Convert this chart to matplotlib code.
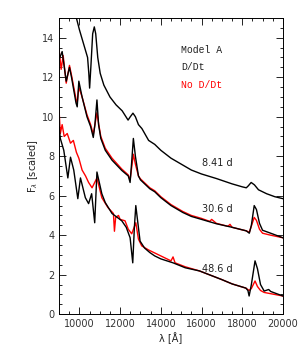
import numpy as np
import matplotlib
matplotlib.use("Agg")
import matplotlib.pyplot as plt
from matplotlib.ticker import MultipleLocator

# 8.41 d, D/Dt only (black)
wl_841 = [9750, 9850, 10000, 10200, 10400, 10460, 10500, 10560, 10650, 10730, 10800, 10900,
          11020, 11200, 11500, 11800, 12100, 12390, 12500, 12630, 12750, 12900, 13070, 13400,
          13700, 14000, 14500, 15000, 15500, 16000, 16730, 17500, 18000, 18200, 18300, 18440,
          18600, 18800, 19200, 19600, 20000]
f_841 = [15.3, 15.0, 14.4, 13.7, 13.0, 12.2, 11.45, 12.5, 14.2, 14.55, 14.2, 13.0,
         12.2, 11.6, 11.0, 10.6, 10.3, 9.83, 10.0, 10.18, 10.0, 9.6, 9.4, 8.8,
         8.6, 8.3, 7.9, 7.6, 7.3, 7.1, 6.87, 6.6, 6.45, 6.4, 6.5, 6.67,
         6.55, 6.3, 6.1, 5.95, 5.85]

# 30.6 d, D/Dt (black)
wl_306 = [9000, 9150, 9350, 9510, 9610, 9830, 9890, 9970, 10130, 10370, 10550, 10680, 10760,
          10860, 10940, 11050, 11270, 11600, 12080, 12400, 12490, 12560, 12650, 12750, 12900,
          13000, 13460, 13700, 14000, 14500, 15080, 15500, 16000, 16730, 17500, 18200, 18350,
          18450, 18590, 18700, 18850, 19000, 19400, 20000]
f_306 = [12.9, 13.3, 11.8, 12.5, 12.0, 10.7, 10.5, 11.8, 11.0, 10.0, 9.5, 8.95, 9.6,
         10.85, 9.6, 8.9, 8.3, 7.8, 7.28, 7.0, 6.67, 7.6, 8.9, 8.0, 7.0,
         6.8, 6.35, 6.2, 5.9, 5.5, 5.15, 4.95, 4.8, 4.58, 4.4, 4.22, 4.1,
         4.5, 5.5, 5.3, 4.6, 4.25, 4.1, 3.87]

# 30.6 d, no D/Dt (red)
wl_306n = [9000, 9100, 9200, 9350, 9510, 9610, 9830, 9890, 9970, 10130, 10370, 10550, 10680,
           10860, 10950, 11050, 11270, 11600, 12080, 12400, 12490, 12650, 12750, 12900, 13000,
           13460, 13700, 14000, 14500, 15080, 15500, 16000, 16400, 16500, 16730, 17300, 17400,
           17500, 18200, 18350, 18590, 18700, 18850, 19000, 19400, 20000]
f_306n = [13.4, 12.4, 13.1, 11.7, 12.6, 12.1, 10.9, 10.7, 11.5, 11.0, 10.1, 9.6, 9.1,
          10.2, 9.6, 9.0, 8.4, 7.9, 7.35, 7.05, 6.8, 8.1, 7.6, 7.0, 6.85,
          6.4, 6.25, 5.95, 5.55, 5.2, 5.0, 4.85, 4.7, 4.8, 4.6, 4.45, 4.55,
          4.4, 4.22, 4.15, 4.9, 4.75, 4.3, 4.1, 4.0, 3.87]

# 48.6 d, D/Dt (black)
wl_486 = [9000, 9060, 9230, 9430, 9560, 9720, 9920, 10050, 10290, 10450, 10600, 10750,
          10860, 11100, 11270, 11600, 12080, 12300, 12490, 12620, 12700,
          12770, 12850, 12980, 13200, 13460, 13700, 14000, 14600, 15200, 15900, 16500, 17000,
          17510, 18180, 18280, 18340, 18450, 18630, 18750, 18900, 19080, 19300, 19400, 20000]
f_486 = [9.5, 8.9, 8.3, 6.9, 7.95, 7.3, 5.85, 6.9, 5.9, 5.6, 6.1, 4.63,
         7.2, 6.1, 5.65, 5.1, 4.73, 4.4, 3.87, 2.6, 4.4,
         5.5, 4.8, 3.7, 3.35, 3.12, 2.95, 2.8, 2.6, 2.35, 2.19, 1.95, 1.75,
         1.53, 1.32, 1.2, 0.92, 1.5, 2.7, 2.3, 1.5, 1.17, 1.25, 1.15, 0.92]

# 48.6 d, no D/Dt (red)
wl_486n = [9000, 9060, 9150, 9250, 9400, 9560, 9700, 9850, 9970, 10130, 10300, 10450, 10620,
           10860, 11100, 11400, 11670, 11720, 11780, 11920, 12000, 12240,
           12400, 12570, 12770, 12900, 13060, 13400, 13700, 14000, 14500, 14600, 14700, 15200,
           15900, 16500, 17000, 17510, 18180, 18340, 18450, 18630, 18750, 18900, 19080, 20000]
f_486n = [10.3, 9.15, 9.6, 9.0, 9.15, 8.66, 8.8, 8.2, 7.9, 7.3, 7.0, 6.67, 6.4,
          6.9, 5.9, 5.4, 5.1, 4.2, 4.9, 5.0, 4.8, 4.73,
          4.3, 4.07, 4.63, 3.8, 3.46, 3.25, 3.1, 2.95, 2.7, 2.9, 2.6, 2.4,
          2.19, 1.95, 1.75, 1.53, 1.32, 1.2, 1.3, 1.68, 1.4, 1.2, 1.1, 0.92]

epochs = ["8.41 d", "30.6 d", "48.6 d"]
epoch_pos = [(16000, 7.65), (16000, 5.35), (16000, 2.3)]

fig = plt.figure(figsize=(3.0, 3.53), dpi=100)
ax = fig.add_axes([0.197, 0.110, 0.746, 0.839])

ax.plot(wl_841, f_841, color="black", lw=1.0)
ax.plot(wl_306n, f_306n, color="red", lw=1.0)
ax.plot(wl_306, f_306, color="black", lw=1.0)
ax.plot(wl_486n, f_486n, color="red", lw=1.0)
ax.plot(wl_486, f_486, color="black", lw=1.0)

mono = "Liberation Mono"
ax.text(15000, 13.4, "Model A", family=mono, fontsize=7, va="center", color="#222222")
ax.text(15000, 12.5, "D/Dt", family=mono, fontsize=7, va="center", color="#222222")
ax.text(15000, 11.6, "No D/Dt", family=mono, fontsize=7, va="center", color="red")
for lab, (x, y) in zip(epochs, epoch_pos):
    ax.text(x, y, lab, fontsize=7, va="center", color="#222222")

ax.set_xlim(9000, 20000)
ax.set_ylim(0, 15)
ax.xaxis.set_major_locator(MultipleLocator(2000))
ax.xaxis.set_minor_locator(MultipleLocator(500))
ax.yaxis.set_major_locator(MultipleLocator(2))
ax.yaxis.set_minor_locator(MultipleLocator(0.5))
ax.tick_params(which="both", direction="in", top=True, right=True, labelsize=7, width=0.6,
               labelcolor="#333333")
ax.tick_params(which="major", length=5)
ax.tick_params(which="minor", length=2.5)
for s in ax.spines.values():
    s.set_linewidth(0.7)

ax.set_xlabel("λ [Å]", fontsize=7, labelpad=2, color="#222222")
ax.set_ylabel("F$_\\lambda$ [scaled]", fontsize=7, labelpad=1, color="#222222")

fig.savefig("out.png", dpi=100)
